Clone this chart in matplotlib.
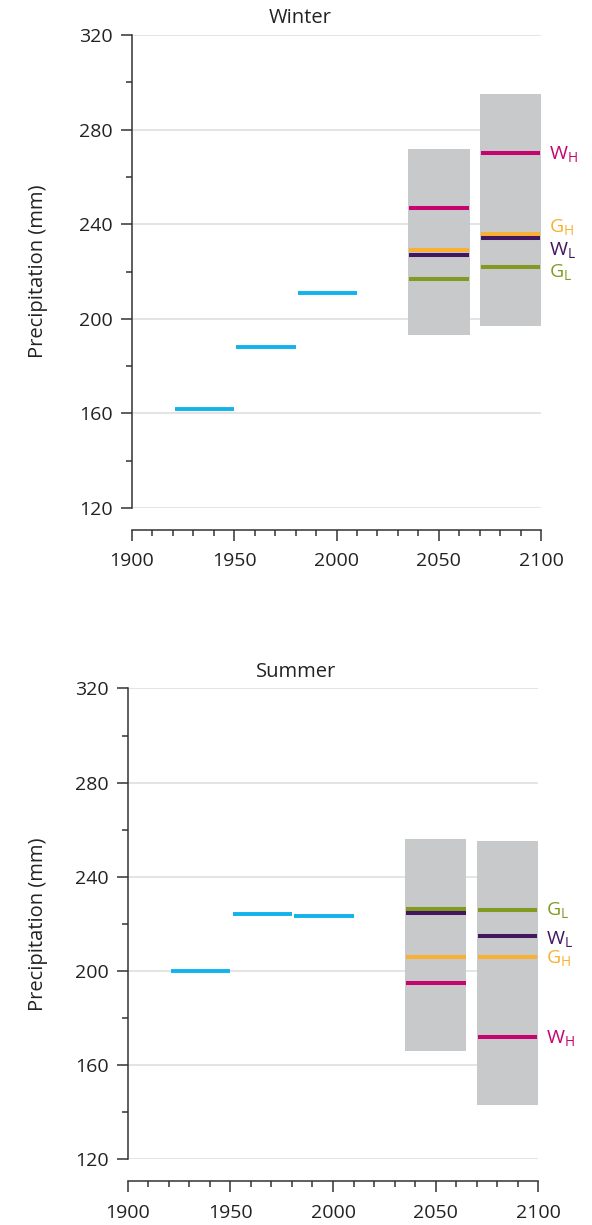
import matplotlib
matplotlib.use("Agg")
import matplotlib.pyplot as plt
from matplotlib.patches import Rectangle
from matplotlib.ticker import MultipleLocator
from matplotlib.transforms import blended_transform_factory, offset_copy

plt.rcParams["font.family"] = ["Open Sans", "DejaVu Sans"]

# Observed 30-year climate periods and their mean precipitation (mm)
obs_starts = [1921, 1951, 1981]
obs_ends = [1950, 1980, 2010]
winter_obs = [162, 188, 211]
summer_obs = [200, 224, 223.5]

# Future scenario periods (around 2050 and 2085)
scen_starts = [2035, 2070]
scen_ends = [2065, 2100]

# Uncertainty ranges per scenario period
winter_low = [193, 197]
winter_high = [272, 295]
summer_low = [166, 143]
summer_high = [256, 255]

# Scenario means per period
winter_GL = [217, 222]
winter_GH = [229, 236]
winter_WL = [227, 234]
winter_WH = [247, 270]
summer_GL = [226.5, 226]
summer_GH = [206, 206]
summer_WL = [224.5, 215]
summer_WH = [195, 172]

scen_names = ["G", "G", "W", "W"]
scen_subs = ["L", "H", "L", "H"]

yticks = [120, 160, 200, 240, 280, 320]
xticks = [1900, 1950, 2000, 2050, 2100]

C_OBS = "#12b2ea"
C_BOX = "#c8c9cb"
C_GL = "#809a22"
C_GH = "#f8b133"
C_WL = "#43175f"
C_WH = "#c4056f"
C_GRID = "#e2e2e2"
C_AX = "#333333"
C_TXT = "#222222"

fig = plt.figure(figsize=(5.92, 12.25), dpi=100)


def panel(rect, title, obs, low, high, series, label_nudge):
    ax = fig.add_axes(rect)
    ax.set_xlim(1900, 2100)
    ax.set_ylim(120, 320)
    for y in yticks:
        ax.axhline(y, color=C_GRID, lw=1.3, zorder=0)
    for s, e, v in zip(obs_starts, obs_ends, obs):
        ax.hlines(v, s, e, color=C_OBS, lw=2.8, zorder=3)
    for s, e, lo, hi in zip(scen_starts, scen_ends, low, high):
        ax.add_patch(Rectangle((s, lo), e - s, hi - lo, facecolor=C_BOX,
                               edgecolor="none", zorder=1))
    colors = [C_GL, C_GH, C_WL, C_WH]
    for vals, col in zip(series, colors):
        for s, e, v in zip(scen_starts, scen_ends, vals):
            ax.hlines(v, s + 0.5, e - 0.3, color=col, lw=2.9, zorder=3)
    # scenario labels beside the last period
    trans = blended_transform_factory(ax.transAxes, ax.transData)
    for vals, col, nm, sb, nd in zip(series, colors, scen_names, scen_subs, label_nudge):
        t = offset_copy(trans, fig=fig, x=6, y=-5.2 + nd, units="points")
        ax.text(1.0, vals[-1], nm + r"$_{\mathregular{" + sb + "}}$",
                transform=t, color=col, fontsize=14, ha="left",
                va="baseline")

    for side in ["top", "right"]:
        ax.spines[side].set_visible(False)
    ax.spines["left"].set_color(C_AX)
    ax.spines["left"].set_linewidth(1.1)
    ax.spines["bottom"].set_color(C_AX)
    ax.spines["bottom"].set_linewidth(1.1)
    ax.spines["bottom"].set_position(("outward", 16))
    ax.set_yticks(yticks)
    ax.yaxis.set_minor_locator(MultipleLocator(20))
    ax.set_xticks(xticks)
    ax.xaxis.set_minor_locator(MultipleLocator(10))
    ax.tick_params(axis="both", which="major", length=8, width=1.1,
                   color=C_AX, labelsize=14, labelcolor=C_TXT)
    ax.tick_params(axis="both", which="minor", length=4, width=1.1,
                   color=C_AX)
    ax.tick_params(axis="y", pad=6)
    ax.tick_params(axis="x", pad=8)
    ax.text(0.41, 1.035, title, transform=ax.transAxes, ha="center",
            va="center", fontsize=14.5, color=C_TXT)
    fig.text(38 / 592, rect[1] + rect[3] / 2, "Precipitation (mm)",
             rotation=90, ha="center", va="center", fontsize=14.5,
             color=C_TXT)
    return ax


panel([0.223, 0.5853, 0.691, 0.3861], "Winter", winter_obs,
      winter_low, winter_high,
      [winter_GL, winter_GH, winter_WL, winter_WH], [-3.0, 6.0, -7.0, 0.7])
panel([0.2162, 0.0537, 0.6926, 0.3843], "Summer", summer_obs,
      summer_low, summer_high,
      [summer_GL, summer_GH, summer_WL, summer_WH], [0.7, 0.5, -1.0, 0])

fig.savefig("out.png", dpi=100)
